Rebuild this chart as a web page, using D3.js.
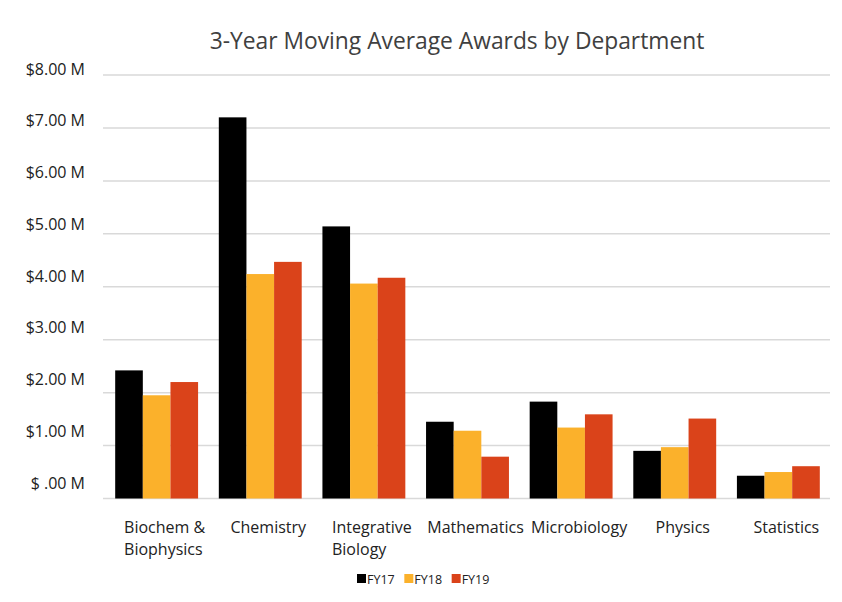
<!DOCTYPE html>
<html><head><meta charset="utf-8">
<script src="https://cdn.jsdelivr.net/npm/d3@7/dist/d3.min.js"></script>
<style>body{margin:0;background:#fff;}svg{display:block;}</style>
</head><body>
<svg id="chart" width="842" height="602"></svg>
<script>
const categories = [["Biochem &","Biophysics"],["Chemistry"],["Integrative","Biology"],["Mathematics"],["Microbiology"],["Physics"],["Statistics"]];
const series = ["FY17","FY18","FY19"];
const fy17 = [2.42, 7.20, 5.14, 1.45, 1.83, 0.90, 0.43];
const fy18 = [1.95, 4.24, 4.06, 1.28, 1.34, 0.97, 0.50];
const fy19 = [2.20, 4.47, 4.17, 0.79, 1.59, 1.51, 0.61];
const yTicks = [0,1,2,3,4,5,6,7,8];
const colors = ["#000000","#FBB12B","#DA431A"];
const title = "3-Year Moving Average Awards by Department";

const values = [fy17, fy18, fy19];
const svg = d3.select("#chart");
const font = "'Open Sans', sans-serif";

const x0 = d3.scaleBand().domain(d3.range(categories.length)).range([104, 831]).paddingInner(0.2).paddingOuter(0.108);
const x1 = d3.scaleBand().domain(d3.range(series.length)).range([0, x0.bandwidth()]);
const y = d3.scaleLinear().domain([0, 8]).range([498.5, 75]);
const yLab = d3.scaleLinear().domain([0, 8]).range([483, 69]);

svg.append("text").attr("x", 457).attr("y", 49).attr("text-anchor","middle")
  .attr("font-family", font).attr("font-size", 22.8).attr("fill","#404040").text(title);

// gridlines
svg.append("g").selectAll("line").data(yTicks).join("line")
  .attr("x1", 103).attr("x2", 830).attr("y1", d=>y(d)).attr("y2", d=>y(d))
  .attr("stroke", "#d9d9d9").attr("stroke-width", 1.5);

// y labels
const fmt = d => d === 0 ? "$ .00 M" : "$" + d.toFixed(2) + " M";
svg.append("g").selectAll("text").data(yTicks).join("text")
  .attr("x", 85).attr("y", d=>yLab(d)).attr("dy","0.35em").attr("text-anchor","end")
  .attr("font-family", font).attr("font-size", 16).attr("fill","#222").text(fmt);

// bars
const g = svg.append("g");
categories.forEach((c, i) => {
  series.forEach((s, j) => {
    g.append("rect")
      .attr("x", x0(i) + x1(j)).attr("width", x1.bandwidth())
      .attr("y", y(values[j][i])).attr("height", y(0) - y(values[j][i]))
      .attr("fill", colors[j]);
  });
});

// category labels (left-aligned blocks, centred under each group)
const lab = svg.append("g");
categories.forEach((c, i) => {
  const cx = x0(i) + x0.bandwidth()/2 + 8;
  const t = lab.append("text").attr("y", 533)
    .attr("text-anchor","start").attr("font-family", font).attr("font-size", 16).attr("fill","#222");
  const spans = c.map((line, k) => t.append("tspan").attr("dy", k ? 22 : 0).text(line));
  const maxW = d3.max(spans, s => s.node().getComputedTextLength());
  spans.forEach(s => s.attr("x", cx - maxW/2));
});

// legend
const lx = d3.scaleBand().domain(series).range([357, 499]);
const lg = svg.append("g");
series.forEach((s, j) => {
  lg.append("rect").attr("x", lx(s)).attr("y", 574).attr("width", 9).attr("height", 9).attr("fill", colors[j]);
  lg.append("text").attr("x", lx(s) + 10).attr("y", 583.5).attr("font-family", font).attr("font-size", 12.5)
    .attr("fill","#222").text(s);
});
</script>
</body></html>
